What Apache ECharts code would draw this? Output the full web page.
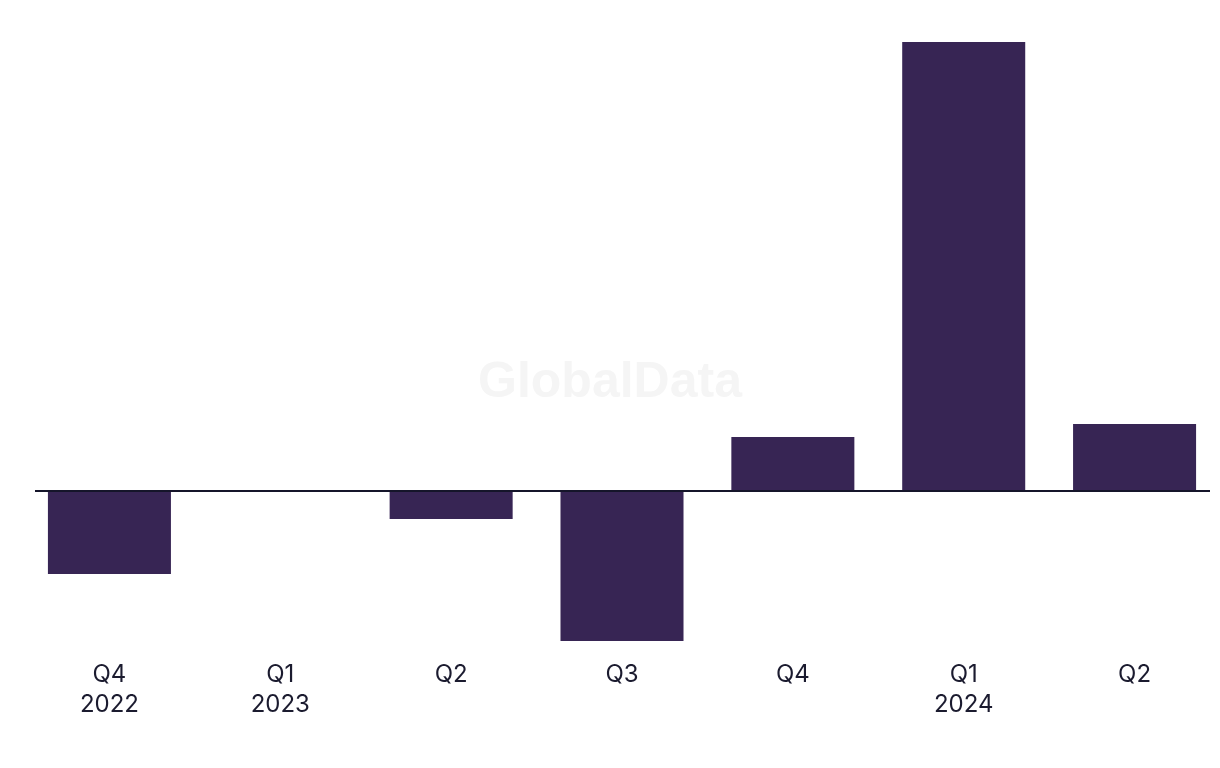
<!DOCTYPE html>
<html>
<head>
<meta charset="utf-8">
<script src="https://cdn.jsdelivr.net/npm/echarts@6/dist/echarts.min.js"></script>
<style>
html,body{margin:0;padding:0;background:#fff;}
#chart{width:1220px;height:768px;}
</style>
</head>
<body>
<div id="chart"></div>
<script>
const categories = ['Q4\n2022', 'Q1\n2023', 'Q2', 'Q3', 'Q4', 'Q1\n2024', 'Q2'];
const values = [-8.3, 0, -2.8, -15.0, 5.4, 44.9, 6.7];

const chart = echarts.init(document.getElementById('chart'), null, {renderer: 'canvas'});
const option = {
  animation: false,
  backgroundColor: '#ffffff',
  graphic: [{
    type: 'text',
    left: 'center',
    top: 358,
    z: 0,
    style: {
      text: 'GlobalData',
      font: 'bold 50px "Liberation Sans", Arial, sans-serif',
      fill: '#f5f5f5'
    }
  }],
  grid: {left: 24, width: 1201, top: 42, height: 599, containLabel: false},
  xAxis: {
    type: 'category',
    data: categories,
    axisLine: {show: false},
    axisTick: {show: false},
    axisLabel: {
      color: '#1b1b2f',
      fontSize: 24,
      lineHeight: 30,
      margin: 19,
      fontFamily: 'Inter, "Noto Sans", sans-serif',
      interval: 0
    }
  },
  yAxis: {
    type: 'value',
    min: 'dataMin',
    max: 'dataMax',
    show: false,
    splitLine: {show: false}
  },
  series: [{
    type: 'bar',
    data: values,
    barWidth: '72%',
    itemStyle: {color: '#372554'},
    z: 2
  }]
};
chart.setOption(option);
const zeroY = chart.convertToPixel({yAxisIndex: 0}, 0);
chart.setOption({
  graphic: [option.graphic[0], {
    type: 'line',
    z: 10,
    shape: {x1: 35, y1: zeroY, x2: 1210, y2: zeroY},
    style: {stroke: '#15152a', lineWidth: 2}
  }]
});
</script>
</body>
</html>
